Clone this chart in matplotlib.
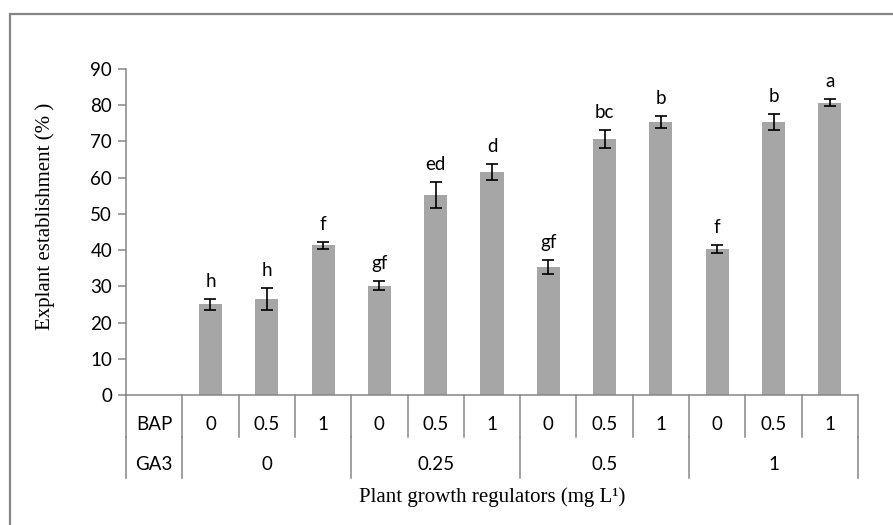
import matplotlib as mpl
import matplotlib.pyplot as plt
from matplotlib.patches import Rectangle

mpl.rcParams.update({
    'font.family': ['Lato', 'DejaVu Sans'],
    'font.size': 13.5,
})

# data
bap = ['0', '0.5', '1'] * 4
ga3 = ['0', '0.25', '0.5', '1']
values = [25.0, 26.5, 41.3, 30.2, 55.3, 61.6, 35.3, 70.6, 75.3, 40.3, 75.3, 80.7]
errors = [1.6, 3.0, 1.0, 1.2, 3.6, 2.3, 2.0, 2.5, 1.7, 1.1, 2.2, 1.0]
letters = ['h', 'h', 'f', 'gf', 'ed', 'd', 'gf', 'bc', 'b', 'f', 'b', 'a']

W, H = 893, 525
grey = '#868686'
bar_col = '#A6A6A6'

f = plt.figure(figsize=(W / 100, H / 100), dpi=100)

# outer border
f.add_artist(Rectangle((10 / W, -0.1), 1.2, 1 - 14 / H + 0.1, transform=f.transFigure,
                       fill=False, edgecolor=grey, linewidth=1.6))

x0, x1, y0, y1 = 126, 858, 395, 69
ax = f.add_axes([x0 / W, 1 - y0 / H, (x1 - x0) / W, (y0 - y1) / H])

xs = list(range(1, len(values) + 1))
ax.bar(xs, values, width=0.41, color=bar_col, zorder=2)
ax.errorbar(xs, values, yerr=errors, fmt='none', ecolor='black', elinewidth=1.2,
            capsize=4.5, capthick=1.2, zorder=3)
for x, v, e, t in zip(xs, values, errors, letters):
    ax.annotate(t, (x, v + e), xytext=(0, 9), textcoords='offset pixels',
                ha='center', va='bottom')

ax.set_xlim(-0.5, 12.5)
ax.set_ylim(0, 90)
ax.set_yticks(range(0, 91, 10))
ax.set_xticks([])
for s in ['top', 'right']:
    ax.spines[s].set_visible(False)
for s in ['left', 'bottom']:
    ax.spines[s].set_color(grey)
    ax.spines[s].set_linewidth(1.1)
ax.tick_params(axis='y', colors=grey, labelcolor='black', length=6, width=1.1, pad=4)

# category table below the axis
tr = ax.get_xaxis_transform()
ph = y0 - y1
r1 = -42 / ph
r2 = -83 / ph
line_kw = dict(color=grey, linewidth=1.1, clip_on=False, transform=tr)
for k in range(0, 14):
    ax.plot([k - 0.5, k - 0.5], [0, r1], **line_kw)
for k in [0, 1, 4, 7, 10, 13]:
    ax.plot([k - 0.5, k - 0.5], [r1, r2], **line_kw)

ax.text(0, -29 / ph, 'BAP', ha='center', va='center', transform=tr)
ax.text(0, -70 / ph, 'GA3', ha='center', va='center', transform=tr)
for x, t in zip(xs, bap):
    ax.text(x, -29 / ph, t, ha='center', va='center', transform=tr)
for i, t in enumerate(ga3):
    ax.text(2 + 3 * i, -70 / ph, t, ha='center', va='center', transform=tr)

f.text(492 / W, 1 - 497 / H, 'Plant growth regulators (mg L¹)', ha='center', va='center',
       family='Liberation Serif', fontsize=15)
f.text(45 / W, 1 - 216 / H, 'Explant establishment (% )', ha='center', va='center',
       rotation=90, family='Liberation Serif', fontsize=15)

f.savefig('out.png', dpi=100)
